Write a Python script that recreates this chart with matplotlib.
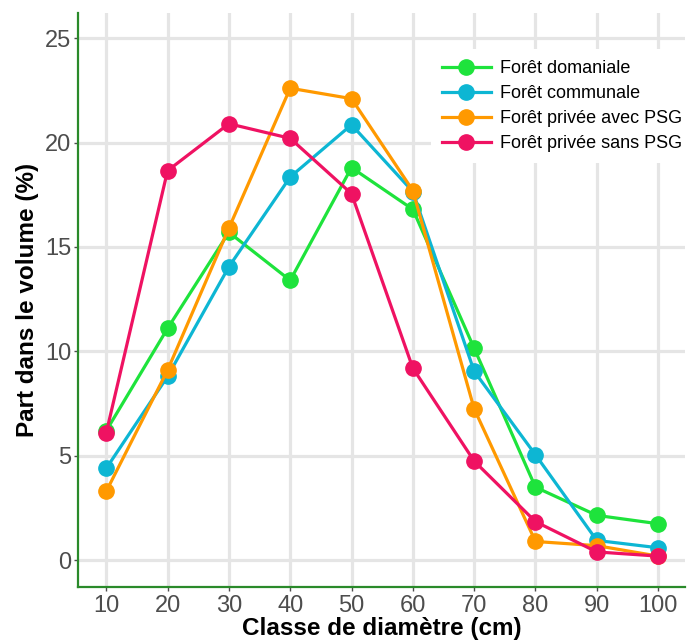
import matplotlib.pyplot as plt

plt.rcParams['font.family'] = ['Liberation Sans', 'DejaVu Sans']

# Dati
classes = [10, 20, 30, 40, 50, 60, 70, 80, 90, 100]
domaniale = [6.2, 11.1, 15.7, 13.4, 18.8, 16.8, 10.15, 3.5, 2.15, 1.75]
communale = [4.4, 8.8, 14.05, 18.35, 20.85, 17.65, 9.05, 5.05, 0.95, 0.6]
privee_psg = [3.3, 9.1, 15.9, 22.6, 22.1, 17.7, 7.25, 0.9, 0.7, 0.2]
privee_sans = [6.1, 18.65, 20.9, 20.2, 17.55, 9.2, 4.75, 1.85, 0.4, 0.2]

labels = ["Forêt domaniale", "Forêt communale",
          "Forêt privée avec PSG", "Forêt privée sans PSG"]
colors = ["#1ee33c", "#0db6d3", "#ff9900", "#ef1262"]

fig = plt.figure(figsize=(6.93, 6.41), dpi=100)
ax = fig.add_axes([0.1126, 0.0842, 0.876, 0.8955])

for serie, lab, col in zip([domaniale, communale, privee_psg, privee_sans], labels, colors):
    ax.plot(classes, serie, marker='o', markersize=11, linewidth=2.3,
            color=col, label=lab, zorder=3)

# Personalizzazione
ax.set_xlim(5.4, 104.4)
ax.set_ylim(-1.28, 26.2)
ax.set_xticks(classes)
ax.set_yticks([0, 5, 10, 15, 20, 25])
ax.grid(True, color='#e5e5e5', linewidth=2.3, zorder=0)
ax.set_axisbelow(True)
for s in ['top', 'right']:
    ax.spines[s].set_visible(False)
for s in ['left', 'bottom']:
    ax.spines[s].set_color('#2a8a2a')
    ax.spines[s].set_linewidth(1.6)
ax.tick_params(axis='both', colors='#4d4d4d', labelsize=17, length=3, width=1)
ax.tick_params(axis='x', pad=3)
ax.tick_params(axis='y', pad=2)

ax.set_xlabel('Classe de diamètre (cm)', fontsize=17.5, fontweight='bold', va='center')
ax.set_ylabel('Part dans le volume (%)', fontsize=17.5, fontweight='bold', va='center')
ax.xaxis.set_label_coords(0.5, -0.0714)
ax.yaxis.set_label_coords(-0.084, 0.5)

leg = ax.legend(loc='upper left', bbox_to_anchor=(0.567, 0.953), fontsize=13,
                frameon=True, facecolor='white', edgecolor='none', framealpha=1,
                fancybox=False, handlelength=2.7, labelspacing=0.45,
                borderpad=0.6, handletextpad=0.5)
leg.set_zorder(5)

plt.savefig('out.png', dpi=100)
